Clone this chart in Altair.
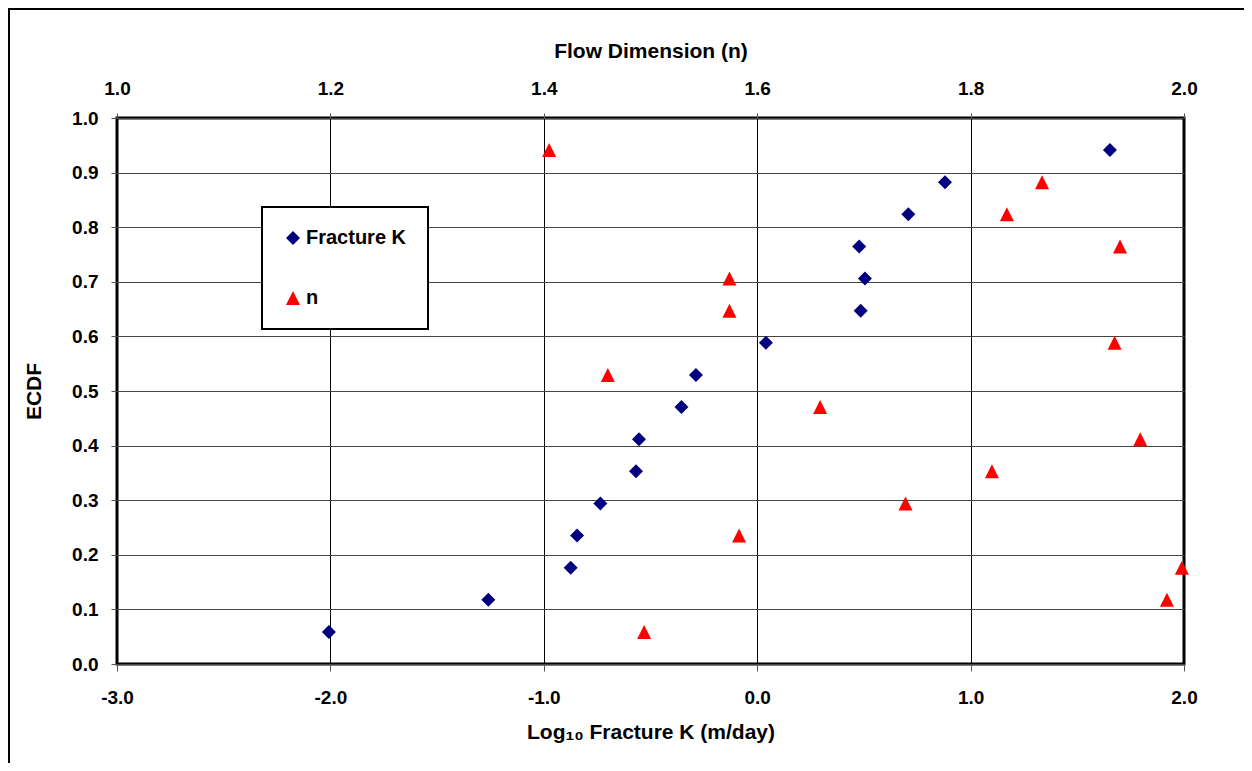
import altair as alt
import pandas as pd

# ---- data ----
ecdf = [0.0588, 0.1176, 0.1765, 0.2353, 0.2941, 0.3529, 0.4118, 0.4706,
        0.5294, 0.5882, 0.6471, 0.7059, 0.7647, 0.8235, 0.8824, 0.9412]
log_k = [-2.007, -1.260, -0.874, -0.844, -0.735, -0.568, -0.554, -0.355,
         -0.287, 0.041, 0.485, 0.505, 0.478, 0.708, 0.880, 1.653]
flow_n = [1.494, 1.984, 1.998, 1.583, 1.739, 1.820, 1.959, 1.659,
          1.460, 1.935, 1.574, 1.574, 1.940, 1.834, 1.867, 1.405]
series = ["Fracture K", "n"]
colors = ["#000080", "#FF0000"]
shapes = ["diamond", "M0,-1L1,1L-1,1Z"]
k_ticks = [-3.0, -2.0, -1.0, 0.0, 1.0, 2.0]
n_ticks = [1.0, 1.2, 1.4, 1.6, 1.8, 2.0]
y_ticks = [0.0, 0.1, 0.2, 0.3, 0.4, 0.5, 0.6, 0.7, 0.8, 0.9, 1.0]

W, H = 1067, 546
FONT = "Liberation Sans"

k_df = pd.DataFrame({"logK": log_k, "ECDF": ecdf, "series": series[0]})
n_df = pd.DataFrame({"n": flow_n, "ECDF": ecdf, "series": series[1]})

color_scale = alt.Scale(domain=series, range=colors)
shape_scale = alt.Scale(domain=series, range=shapes)
legend = alt.Legend(title=None, orient="none", legendX=145, legendY=89)

y_enc = alt.Y(
    "ECDF:Q",
    scale=alt.Scale(domain=[0, 1], nice=False),
    axis=alt.Axis(title="ECDF", values=y_ticks, format=".1f", grid=True,
                  gridColor="#444444", tickSize=6, labelPadding=13,
                  titlePadding=27),
)

one = pd.DataFrame({"f": [0]})
frame_left = alt.Chart(one).mark_rule(stroke="black", strokeWidth=2).encode(
    x=alt.value(-108), y=alt.value(-110), y2=alt.value(H + 300),
)
frame_top = alt.Chart(one).mark_rule(stroke="black", strokeWidth=2).encode(
    x=alt.value(-109), x2=alt.value(W + 300), y=alt.value(-109),
)

k_label_expr = ("datum.value < 0 ? '-' + format(-datum.value, '.1f') "
                ": format(datum.value, '.1f')")

k_layer = alt.Chart(k_df).mark_point(filled=True, size=196, opacity=1).encode(
    x=alt.X("logK:Q", scale=alt.Scale(domain=[-3, 2], nice=False),
            axis=alt.Axis(orient="bottom", title="Log₁₀ Fracture K (m/day)",
                          values=k_ticks, labelExpr=k_label_expr, grid=True,
                          gridColor="#000000", tickSize=7, labelPadding=17,
                          titlePadding=14, labelFlush=False)),
    y=y_enc,
    color=alt.Color("series:N", scale=color_scale, legend=legend),
    shape=alt.Shape("series:N", scale=shape_scale, legend=legend),
)

n_layer = alt.Chart(n_df).mark_point(filled=True, size=196, opacity=1).encode(
    x=alt.X("n:Q", scale=alt.Scale(domain=[1, 2], nice=False),
            axis=alt.Axis(orient="top", title="Flow Dimension (n)",
                          values=n_ticks, format=".1f", grid=False,
                          tickSize=5, labelPadding=15, titlePadding=18,
                          labelFlush=False)),
    y=y_enc,
    color=alt.Color("series:N", scale=color_scale, legend=legend),
    shape=alt.Shape("series:N", scale=shape_scale, legend=legend),
)

chart = (
    alt.layer(frame_left, frame_top, k_layer, n_layer)
    .resolve_scale(x="independent")
    .properties(
        width=W, height=H,
        padding={"left": 109, "top": 110, "right": 60, "bottom": 99},
        autosize=alt.AutoSizeParams(type="none"),
    )
    .configure_view(stroke="black", strokeWidth=3)
    .configure_axis(
        labelFont=FONT, titleFont=FONT, labelFontSize=19, titleFontSize=21,
        labelFontWeight="bold", titleFontWeight="bold",
        labelColor="black", titleColor="black", domain=False,
        tickColor="#555555", gridWidth=1,
    )
    .configure_legend(
        labelFont=FONT, labelFontSize=20, labelFontWeight="bold",
        labelColor="black", symbolSize=196, strokeColor="black",
        strokeWidth=2, fillColor="white", padding=21, rowPadding=40,
        labelOffset=3, symbolOpacity=1, symbolStrokeWidth=0,
    )
)

chart.save("out.html", embed_options={"renderer": "svg", "actions": False})
